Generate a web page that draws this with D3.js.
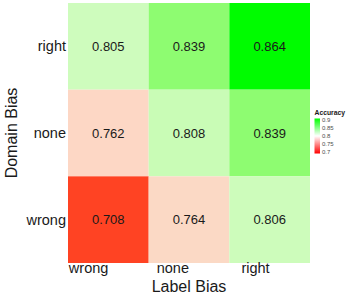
<!DOCTYPE html>
<html>
<head>
<meta charset="utf-8">
<script src="https://cdn.jsdelivr.net/npm/d3@7"></script>
<style>
  body { margin: 0; background: #fff; }
  text { font-family: "Liberation Sans", Arial, sans-serif; }
</style>
</head>
<body>
<div id="chart"></div>
<script>
// data
var labelBias = ["wrong", "none", "right"];
var domainBias = ["right", "none", "wrong"]; // top to bottom
var accWrong = [0.708, 0.764, 0.806]; // domain bias = wrong, by label bias
var accNone  = [0.762, 0.808, 0.839];
var accRight = [0.805, 0.839, 0.864];
var legendTicks = [0.7, 0.75, 0.8, 0.85, 0.9];

var rows = { wrong: accWrong, none: accNone, right: accRight };
var cells = [];
domainBias.forEach(function(d) {
  labelBias.forEach(function(l, i) {
    cells.push({ domain: d, label: l, value: rows[d][i] });
  });
});

var width = 349, height = 295;
var svg = d3.select("#chart").append("svg")
  .attr("width", width)
  .attr("height", height);

var x = d3.scaleBand().domain(labelBias).range([68, 310]);
var y = d3.scaleBand().domain(domainBias).range([3, 263]);

var color = d3.scaleLinear()
  .domain([0.70, 0.76, 0.80, 0.84, 0.86])
  .range(["#ff2c0a", "#ffd5c5", "#d8fcc8", "#8cfc6f", "#00fc00"])
  .clamp(true);

svg.selectAll("rect.cell")
  .data(cells)
  .enter()
  .append("rect")
  .attr("class", "cell")
  .attr("x", function(d) { return x(d.label); })
  .attr("y", function(d) { return y(d.domain); })
  .attr("width", x.bandwidth())
  .attr("height", y.bandwidth())
  .attr("fill", function(d) { return color(d.value); });

svg.selectAll("text.val")
  .data(cells)
  .enter()
  .append("text")
  .attr("class", "val")
  .attr("x", function(d) { return x(d.label) + x.bandwidth() / 2; })
  .attr("y", function(d) { return y(d.domain) + y.bandwidth() / 2; })
  .attr("dy", "0.35em")
  .attr("text-anchor", "middle")
  .style("font-size", "13px")
  .style("fill", "#1a1a1a")
  .text(function(d) { return d3.format(".3f")(d.value); });

// x tick labels (right aligned on band centre, like the source)
svg.selectAll("text.xtick")
  .data(labelBias)
  .enter()
  .append("text")
  .attr("class", "xtick")
  .attr("x", function(d) { return x(d) + x.bandwidth() / 2; })
  .attr("y", 273)
  .attr("text-anchor", "end")
  .style("font-size", "14.5px")
  .style("fill", "#1a1a1a")
  .text(function(d) { return d; });

// y tick labels
svg.selectAll("text.ytick")
  .data(domainBias)
  .enter()
  .append("text")
  .attr("class", "ytick")
  .attr("x", 66)
  .attr("y", function(d) { return y(d) + y.bandwidth() / 2; })
  .attr("dy", "0.35em")
  .attr("text-anchor", "end")
  .style("font-size", "14.5px")
  .style("fill", "#1a1a1a")
  .text(function(d) { return d; });

svg.append("text")
  .attr("x", 189)
  .attr("y", 291.5)
  .attr("text-anchor", "middle")
  .style("font-size", "16px")
  .style("fill", "#1a1a1a")
  .text("Label Bias");

svg.append("text")
  .attr("transform", "translate(16.5,133) rotate(-90)")
  .attr("text-anchor", "middle")
  .style("font-size", "16px")
  .style("fill", "#1a1a1a")
  .text("Domain Bias");

// legend
var ly = d3.scaleLinear().domain([0.7, 0.9]).range([152, 120]);
var defs = svg.append("defs");
var grad = defs.append("linearGradient")
  .attr("id", "accgrad")
  .attr("x1", 0).attr("y1", 1).attr("x2", 0).attr("y2", 0);
var legendColor = d3.scaleLinear()
  .domain([0.7, 0.8, 0.9])
  .range(["#ff0000", "#ffffff", "#00ff00"]);
d3.range(0, 1.0001, 0.1).forEach(function(t) {
  var v = 0.7 + t * 0.2;
  grad.append("stop")
    .attr("offset", t)
    .attr("stop-color", legendColor(v));
});

svg.append("rect")
  .attr("x", 314.5)
  .attr("y", ly(0.9) - 1.5)
  .attr("width", 5.5)
  .attr("height", ly(0.7) - ly(0.9) + 3)
  .attr("fill", "url(#accgrad)");

svg.append("text")
  .attr("x", 314.5)
  .attr("y", 114.5)
  .style("font-size", "6.8px")
  .style("font-weight", "bold")
  .style("fill", "#1a1a1a")
  .text("Accuracy");

svg.selectAll("text.ltick")
  .data(legendTicks)
  .enter()
  .append("text")
  .attr("class", "ltick")
  .attr("x", 322)
  .attr("y", function(d) { return ly(d); })
  .attr("dy", "0.35em")
  .style("font-size", "6px")
  .style("fill", "#4d4d4d")
  .text(function(d) { return d; });
</script>
</body>
</html>
